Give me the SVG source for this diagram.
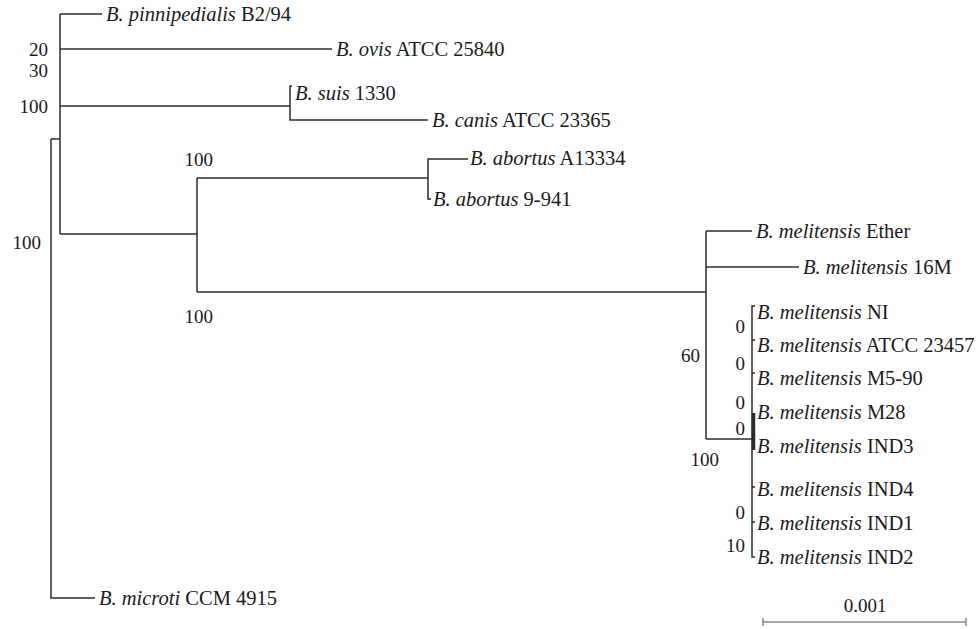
<svg xmlns="http://www.w3.org/2000/svg" width="976" height="629" viewBox="0 0 976 629">
<style>
.br{fill:none;stroke:#2b2b2b;stroke-width:1.5}
.lb{font-family:"Liberation Serif","Times New Roman",serif;font-size:20.5px;fill:#1a1a1a}
.bs{font-family:"Liberation Serif","Times New Roman",serif;font-size:19px;fill:#1a1a1a}
.it{font-style:italic}
</style>
<rect width="976" height="629" fill="#fff"/>
<g id="connectors">
<path class="br" d="M51,139 V598 H95"/>
<path class="br" d="M51,139 H60"/>
<path class="br" d="M60,14 V234"/>
<path class="br" d="M60,14 H102"/>
<path class="br" d="M60,49 H332"/>
<path class="br" d="M60,106 H290"/>
<path class="br" d="M292,86 H290 V120 H428"/>
<path class="br" d="M60,234 H197"/>
<path class="br" d="M197,178 V292"/>
<path class="br" d="M197,178 H428"/>
<path class="br" d="M468,159 H428 V199 H431"/>
<path class="br" d="M197,292 H706"/>
<path class="br" d="M706,231 V439"/>
<path class="br" d="M706,231 H752"/>
<path class="br" d="M706,267 H799"/>
<path class="br" d="M706,439 H752"/>
<path class="br" d="M755,306 H752 V557 H755"/>
<path class="br" d="M752,340 H755 M752,373 H755 M752,487 H755 M752,522 H755"/>
<path class="br" d="M753.5,413 V450" style="stroke-width:3.5"/>
</g>
<g id="leaves">
<g id="n-pinnipedialis"><text class="lb" x="106" y="21"><tspan class="it">B. pinnipedialis</tspan> B2/94</text></g>
<g id="n-ovis"><text class="lb" x="336" y="56"><tspan class="it">B. ovis</tspan> ATCC 25840</text></g>
<g id="n-suis"><text class="lb" x="295" y="100"><tspan class="it">B. suis</tspan> 1330</text></g>
<g id="n-canis"><text class="lb" x="432" y="127"><tspan class="it">B. canis</tspan> ATCC 23365</text></g>
<g id="n-abortusA"><text class="lb" x="470" y="165"><tspan class="it">B. abortus</tspan> A13334</text></g>
<g id="n-abortus9"><text class="lb" x="433" y="206"><tspan class="it">B. abortus</tspan> 9-941</text></g>
<g id="n-ether"><text class="lb" x="756" y="238"><tspan class="it">B. melitensis</tspan> Ether</text></g>
<g id="n-16M"><text class="lb" x="803" y="274"><tspan class="it">B. melitensis</tspan> 16M</text></g>
<g id="n-NI"><text class="lb" x="757" y="319"><tspan class="it">B. melitensis</tspan> NI</text></g>
<g id="n-ATCC23457"><text class="lb" x="757" y="352"><tspan class="it">B. melitensis</tspan> ATCC 23457</text></g>
<g id="n-M5-90"><text class="lb" x="757" y="385"><tspan class="it">B. melitensis</tspan> M5-90</text></g>
<g id="n-M28"><text class="lb" x="757" y="419"><tspan class="it">B. melitensis</tspan> M28</text></g>
<g id="n-IND3"><text class="lb" x="757" y="453"><tspan class="it">B. melitensis</tspan> IND3</text></g>
<g id="n-IND4"><text class="lb" x="757" y="496"><tspan class="it">B. melitensis</tspan> IND4</text></g>
<g id="n-IND1"><text class="lb" x="757" y="530"><tspan class="it">B. melitensis</tspan> IND1</text></g>
<g id="n-IND2"><text class="lb" x="757" y="564"><tspan class="it">B. melitensis</tspan> IND2</text></g>
<g id="n-microti"><text class="lb" x="99" y="605"><tspan class="it">B. microti</tspan> CCM 4915</text></g>
</g>
<g id="bootstrap" text-anchor="end">
<text class="bs" x="48" y="56">20</text>
<text class="bs" x="48" y="77">30</text>
<text class="bs" x="48" y="113">100</text>
<text class="bs" x="41" y="249">100</text>
<text class="bs" x="213" y="166">100</text>
<text class="bs" x="213" y="323">100</text>
<text class="bs" x="700" y="362">60</text>
<text class="bs" x="719" y="466">100</text>
<text class="bs" x="745" y="333">0</text>
<text class="bs" x="745" y="370">0</text>
<text class="bs" x="745" y="409">0</text>
<text class="bs" x="745" y="435">0</text>
<text class="bs" x="745" y="519">0</text>
<text class="bs" x="745" y="552">10</text>
</g>
<g id="scale">
<path d="M763,618 V626 M763,622 H966 M966,618 V626" fill="none" stroke="#8a8a8a" stroke-width="1.5"/>
<text class="bs" x="865" y="612" text-anchor="middle">0.001</text>
</g>
</svg>
